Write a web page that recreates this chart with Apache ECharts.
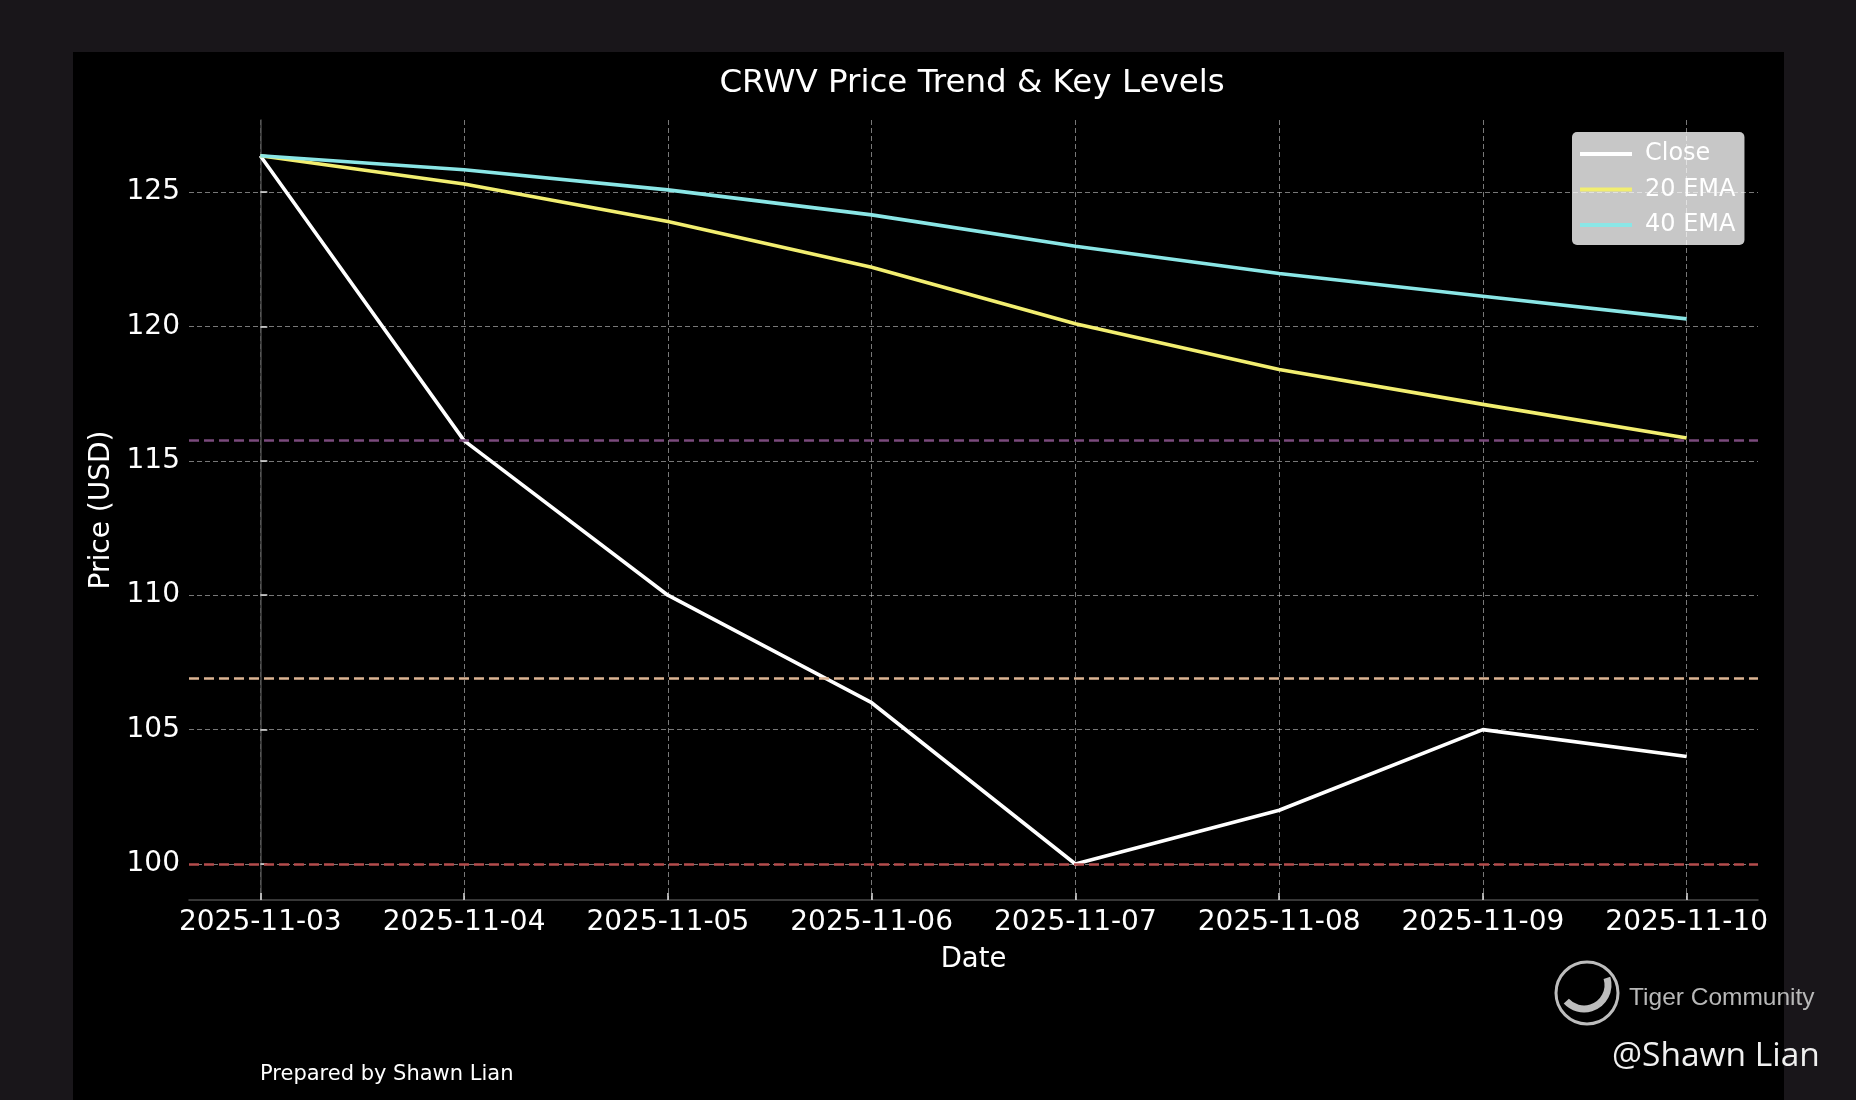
<!DOCTYPE html>
<html>
<head>
<meta charset="utf-8">
<script src="https://cdn.jsdelivr.net/npm/echarts@6/dist/echarts.min.js"></script>
<style>html,body{margin:0;padding:0;background:#19161a;}#c{width:1856px;height:1100px;}</style>
</head>
<body>
<div id="c"></div>
<script>
const dates = ['2025-11-03','2025-11-04','2025-11-05','2025-11-06','2025-11-07','2025-11-08','2025-11-09','2025-11-10'];
const closeVals = [126.35, 115.75, 110.0, 106.0, 100.0, 102.0, 105.0, 104.0];
const ema20Vals = [126.35, 125.3, 123.9, 122.2, 120.1, 118.4, 117.1, 115.85];
const ema40Vals = [126.35, 125.83, 125.08, 124.15, 122.98, 121.97, 121.12, 120.28];
const levelVals = [115.75, 106.9, 100.0];
const yTicks = [100, 105, 110, 115, 120, 125];

const FONT = 'DejaVu Sans';
const xIdx = dates.map((d, i) => i);
const pairs = arr => arr.map((v, i) => [i, v]);
const levelColors = ['#7a4a7c', '#dcb493', '#b44c4c'];

const chart = echarts.init(document.getElementById('c'));
chart.setOption({
  backgroundColor: '#19161a',
  animation: false,
  textStyle: { fontFamily: FONT },
  graphic: [
    { type: 'rect', z: -10, silent: true, shape: { x: 73, y: 52, width: 1711, height: 1048 }, style: { fill: '#000000' } },
    { type: 'text', left: 260, top: 1064, style: { text: 'Prepared by Shawn Lian', fill: '#ffffff', font: '21px "DejaVu Sans"' } },
    { type: 'circle', shape: { cx: 1587, cy: 993, r: 31 }, style: { fill: 'none', stroke: '#bdbdbd', lineWidth: 3 } },
    { type: 'arc', shape: { cx: 1584, cy: 985, r: 24, startAngle: -0.3, endAngle: 2.4 }, style: { fill: 'none', stroke: '#bdbdbd', lineWidth: 7 } },
    { type: 'text', left: 1629, top: 986, style: { text: 'Tiger Community', fill: '#b8b8b8', font: '24.5px "Liberation Sans"' } },
    { type: 'text', left: 1612, top: 1039, style: { text: '@Shawn Lian', fill: '#f0f0f0', font: '33.5px "Open Sans"' } }
  ],
  title: {
    text: 'CRWV Price Trend & Key Levels',
    left: 967, textAlign: 'center', top: 62,
    textStyle: { color: '#ffffff', fontSize: 32.5, fontWeight: 'normal', fontFamily: FONT }
  },
  legend: {
    orient: 'vertical', left: 1572, top: 132,
    backgroundColor: 'rgba(255,255,255,0.78)', borderRadius: 5,
    padding: [10, 9, 8, 8], itemGap: 11.5,
    itemWidth: 52, itemHeight: 4, icon: 'rect',
    textStyle: { color: '#ffffff', fontSize: 24, fontFamily: FONT, padding: [0, 0, 0, 8] },
    data: ['Close', '20 EMA', '40 EMA']
  },
  grid: { left: 189, right: 98, top: 120, bottom: 200 },
  xAxis: {
    type: 'value', min: -0.35, max: 7.35,
    name: 'Date', nameLocation: 'middle', nameGap: 46,
    nameTextStyle: { color: '#ffffff', fontSize: 27.5, fontFamily: FONT },
    axisLine: { show: true, onZero: false, lineStyle: { color: '#4a4a4a', width: 1.5 } },
    axisTick: { show: true, inside: true, length: 7, customValues: xIdx, lineStyle: { color: '#e0e0e0', width: 1.5 } },
    axisLabel: { customValues: xIdx, color: '#ffffff', fontSize: 28, fontFamily: FONT, margin: 9, formatter: v => dates[Math.round(v)] },
    splitLine: { show: true, lineStyle: { color: 'rgba(200,200,200,0.6)', width: 1, type: [5, 3] } }
  },
  yAxis: {
    type: 'value', min: 98.66, max: 127.68,
    name: 'Price (USD)', nameLocation: 'middle', nameGap: 67,
    nameTextStyle: { color: '#ffffff', fontSize: 28, fontFamily: FONT },
    axisLine: { show: true, lineStyle: { color: '#4a4a4a', width: 1.5 } },
    axisTick: { show: true, inside: true, length: 7, customValues: yTicks, lineStyle: { color: '#e0e0e0', width: 1.5 } },
    axisLabel: { customValues: yTicks, color: '#ffffff', fontSize: 28, fontFamily: FONT, margin: 9 },
    splitLine: { show: true, lineStyle: { color: 'rgba(200,200,200,0.6)', width: 1, type: [5, 3] } }
  },
  series: [
    {
      name: 'Close', type: 'line', data: pairs(closeVals), showSymbol: false, symbol: 'none',
      lineStyle: { color: '#ffffff', width: 3.6 }, itemStyle: { color: '#ffffff' }, z: 3,
      markLine: {
        silent: true, symbol: 'none', label: { show: false },
        data: levelVals.map((v, i) => ({ yAxis: v, lineStyle: { color: levelColors[i], width: 2.5, type: [10, 5] } }))
      }
    },
    {
      name: '20 EMA', type: 'line', data: pairs(ema20Vals), showSymbol: false, symbol: 'none',
      lineStyle: { color: '#f2ee70', width: 3.6 }, itemStyle: { color: '#f2ee70' }, z: 4
    },
    {
      name: '40 EMA', type: 'line', data: pairs(ema40Vals), showSymbol: false, symbol: 'none',
      lineStyle: { color: '#8ae6e6', width: 3.6 }, itemStyle: { color: '#8ae6e6' }, z: 5
    }
  ]
});
</script>
</body>
</html>
